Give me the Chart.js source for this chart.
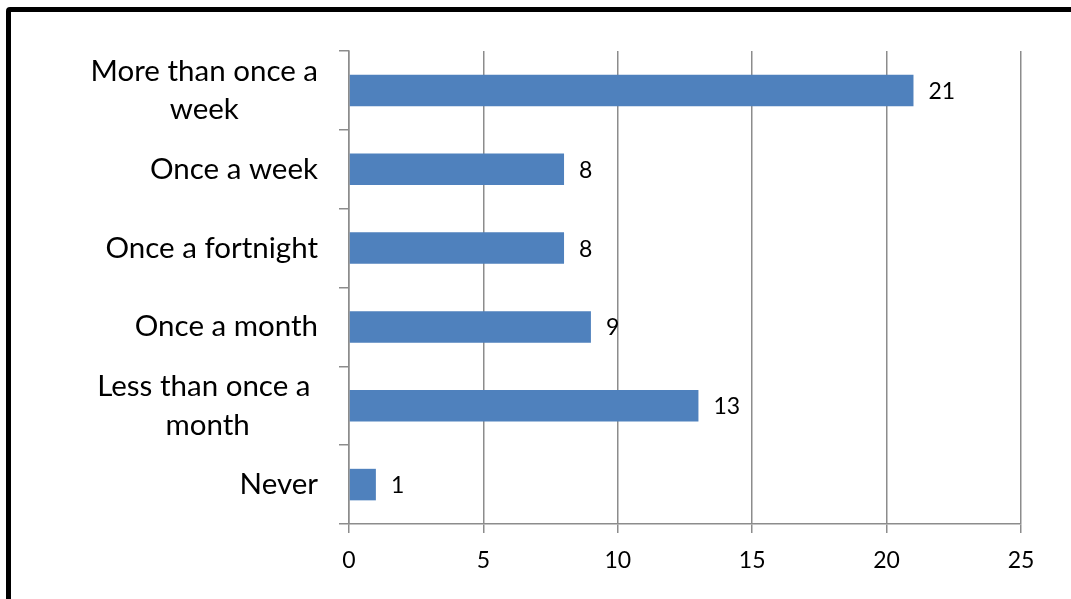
<!DOCTYPE html>
<html>
<head>
<meta charset="utf-8">
<script src="https://cdn.jsdelivr.net/npm/chart.js@4"></script>
<style>
  html, body { margin: 0; padding: 0; background: #fff; overflow: hidden; width: 1071px; height: 599px; }
  #wrap { position: relative; width: 1071px; height: 599px; }
  #frame { position: absolute; left: 6px; top: 7px; width: 1200px; height: 800px; border: 5px solid #000; border-radius: 4px; pointer-events: none; }
  canvas { position: absolute; left: 0; top: 0; }
</style>
</head>
<body>
<div id="wrap">
  <canvas id="c" width="1071" height="599"></canvas>
  <div id="frame"></div>
</div>
<script>
const categories = ["More than once a week", "Once a week", "Once a fortnight", "Once a month", "Less than once a month", "Never"];
const categoryLines = [["More than once a", "week"], ["Once a week"], ["Once a fortnight"], ["Once a month"], ["Less than once a ", "month"], ["Never"]];
const values = [21, 8, 8, 9, 13, 1];
const xTicks = [0, 5, 10, 15, 20, 25];

const FONT = "Lato, 'Open Sans', sans-serif";
const CAT_SIZE = 29.5;
const NUM_SIZE = 23;
const GRID = '#8c8c8c';

const labelPlugin = {
  id: 'labels',
  afterDraw(chart) {
    const ctx = chart.ctx;
    const yScale = chart.scales.y;
    const area = chart.chartArea;
    ctx.save();
    ctx.fillStyle = '#000';
    ctx.font = CAT_SIZE + 'px ' + FONT;
    ctx.textBaseline = 'middle';
    ctx.textAlign = 'center';
    const lineH = 38.5;
    const rightEdge = area.left - 31;
    categoryLines.forEach((lines, i) => {
      const cy = yScale.getPixelForValue(i);
      const maxW = Math.max(...lines.map(l => ctx.measureText(l).width));
      const cx = rightEdge - maxW / 2;
      const top = cy - (lines.length - 1) * lineH / 2;
      lines.forEach((l, j) => {
        ctx.fillText(l, cx, top + j * lineH);
      });
    });
    ctx.font = NUM_SIZE + 'px ' + FONT;
    ctx.textAlign = 'left';
    const meta = chart.getDatasetMeta(0);
    meta.data.forEach((bar, i) => {
      ctx.fillText(String(values[i]), bar.x + 15, bar.y + 1);
    });
    ctx.restore();
  }
};

new Chart(document.getElementById('c'), {
  type: 'bar',
  data: {
    labels: categories,
    datasets: [{
      data: values,
      backgroundColor: '#4F81BD',
      borderWidth: 0,
      categoryPercentage: 1.0,
      barPercentage: 0.4
    }]
  },
  options: {
    indexAxis: 'y',
    responsive: false,
    animation: false,
    events: [],
    layout: { padding: { top: 51, right: 50, left: 0, bottom: 0 } },
    plugins: { legend: { display: false }, tooltip: { enabled: false } },
    scales: {
      x: {
        min: 0, max: 25,
        afterBuildTicks(scale) { scale.ticks = xTicks.map(v => ({ value: v })); },
        afterFit(scale) { scale.height = 75; },
        grid: { color: GRID, lineWidth: 1.5, tickLength: 9, drawTicks: true },
        border: { color: GRID, width: 1.5 },
        ticks: { color: '#000', font: { family: FONT, size: NUM_SIZE }, padding: 14 }
      },
      y: {
        afterFit(scale) { scale.width = 349; },
        grid: { color: GRID, lineWidth: 1.5, tickLength: 10, drawOnChartArea: false, drawTicks: true, offset: true },
        border: { color: GRID, width: 1.5 },
        ticks: { display: false }
      }
    }
  },
  plugins: [labelPlugin]
});
</script>
</body>
</html>
